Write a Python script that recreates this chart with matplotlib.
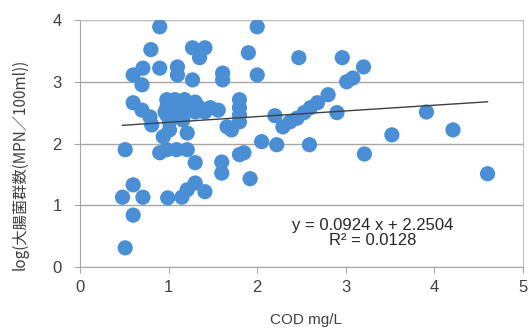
import matplotlib
matplotlib.use("Agg")
import matplotlib.pyplot as plt
import numpy as np

plt.rcParams['font.family'] = ['Liberation Sans', 'Noto Sans CJK JP', 'DejaVu Sans']

# COD (mg/L) vs log(coliform count)
cod = [0.90, 0.80, 0.90, 0.71, 0.60, 0.70, 1.10, 1.10, 1.27, 1.27, 1.41, 1.35,
       1.61, 1.61, 1.90, 2.00, 2.00, 2.47, 2.96, 3.01, 3.08, 3.20,
       0.60, 0.70, 0.79, 0.81,
       0.98, 1.07, 1.18, 1.30, 0.98, 1.09, 1.21, 1.35, 1.47, 1.56,
       0.98, 1.13, 1.30, 1.41, 1.01, 1.16, 0.96,
       1.66, 1.01, 1.21, 0.94, 1.71, 1.80, 1.80, 1.80, 1.80,
       2.20, 2.29, 2.37, 2.45, 2.53, 2.60, 2.68, 2.80, 2.90,
       0.51, 0.90, 0.98, 1.09, 1.21, 1.30, 1.60, 1.60, 1.80, 1.85, 1.92,
       2.05, 2.22, 2.59, 3.21, 3.52, 3.91, 4.21, 4.60,
       0.60, 0.48, 0.71, 0.60, 0.51, 0.99, 1.15, 1.21, 1.30, 1.41]
log_coli = [3.89, 3.52, 3.22, 3.22, 3.11, 2.95, 3.24, 3.11, 3.03, 3.55, 3.55, 3.39,
            3.14, 3.03, 3.47, 3.89, 3.11, 3.39, 3.39, 3.00, 3.06, 3.24,
            2.66, 2.54, 2.43, 2.30,
            2.71, 2.71, 2.71, 2.67, 2.58, 2.58, 2.58, 2.58, 2.58, 2.54,
            2.46, 2.46, 2.51, 2.51, 2.35, 2.38, 2.51,
            2.27, 2.22, 2.17, 2.11, 2.22, 2.71, 2.58, 2.46, 2.35,
            2.45, 2.27, 2.35, 2.41, 2.50, 2.58, 2.66, 2.79, 2.50,
            1.90, 1.85, 1.90, 1.90, 1.90, 1.69, 1.70, 1.52, 1.82, 1.85, 1.43,
            2.03, 1.98, 1.98, 1.83, 2.14, 2.51, 2.22, 1.51,
            1.33, 1.13, 1.13, 0.84, 0.31, 1.12, 1.13, 1.25, 1.36, 1.22]

slope = 0.0924
intercept = 2.2504
r2 = 0.0128

fig = plt.figure(figsize=(5.29, 3.30), dpi=100)
ax = fig.add_axes([80/529, 63/330, 443/529, 247/330])

ax.scatter(cod, log_coli, s=120, color='#4a8fd6', edgecolors='none', zorder=3)

xs = np.array([min(cod), max(cod)])
ax.plot(xs, slope * xs + intercept, color='#404040', lw=1.0, zorder=4)

ax.set_xlim(0, 5)
ax.set_ylim(0, 4)
ax.set_xticks(range(6))
ax.set_yticks(range(5))
ax.grid(axis='y', color='#a6a6a6', lw=1.0, zorder=0)
for s in ax.spines.values():
    s.set_color('#bfbfbf')
ax.spines['left'].set_color('#a6a6a6')
ax.spines['bottom'].set_color('#a6a6a6')
ax.tick_params(colors='#a6a6a6', labelcolor='#404040', labelsize=12, length=4)
ax.tick_params(axis='x', pad=5)
ax.tick_params(axis='y', pad=9)

ax.text(3.3, 0.55, f"y = {slope} x + {intercept}\nR² = {r2}", ha='center', va='center',
        fontsize=12, color='#262626', linespacing=1.05)

ax.set_xlabel("COD mg/L", fontsize=11, color='#404040')
ax.xaxis.set_label_coords(0.51, -0.187)
ax.set_ylabel("log(大腸菌群数(MPN／100ml))", fontsize=11, color='#404040',
              family=['Noto Sans CJK JP', 'DejaVu Sans'])
ax.yaxis.set_label_coords(-0.117, 0.417)

fig.savefig("out.png", dpi=100)
